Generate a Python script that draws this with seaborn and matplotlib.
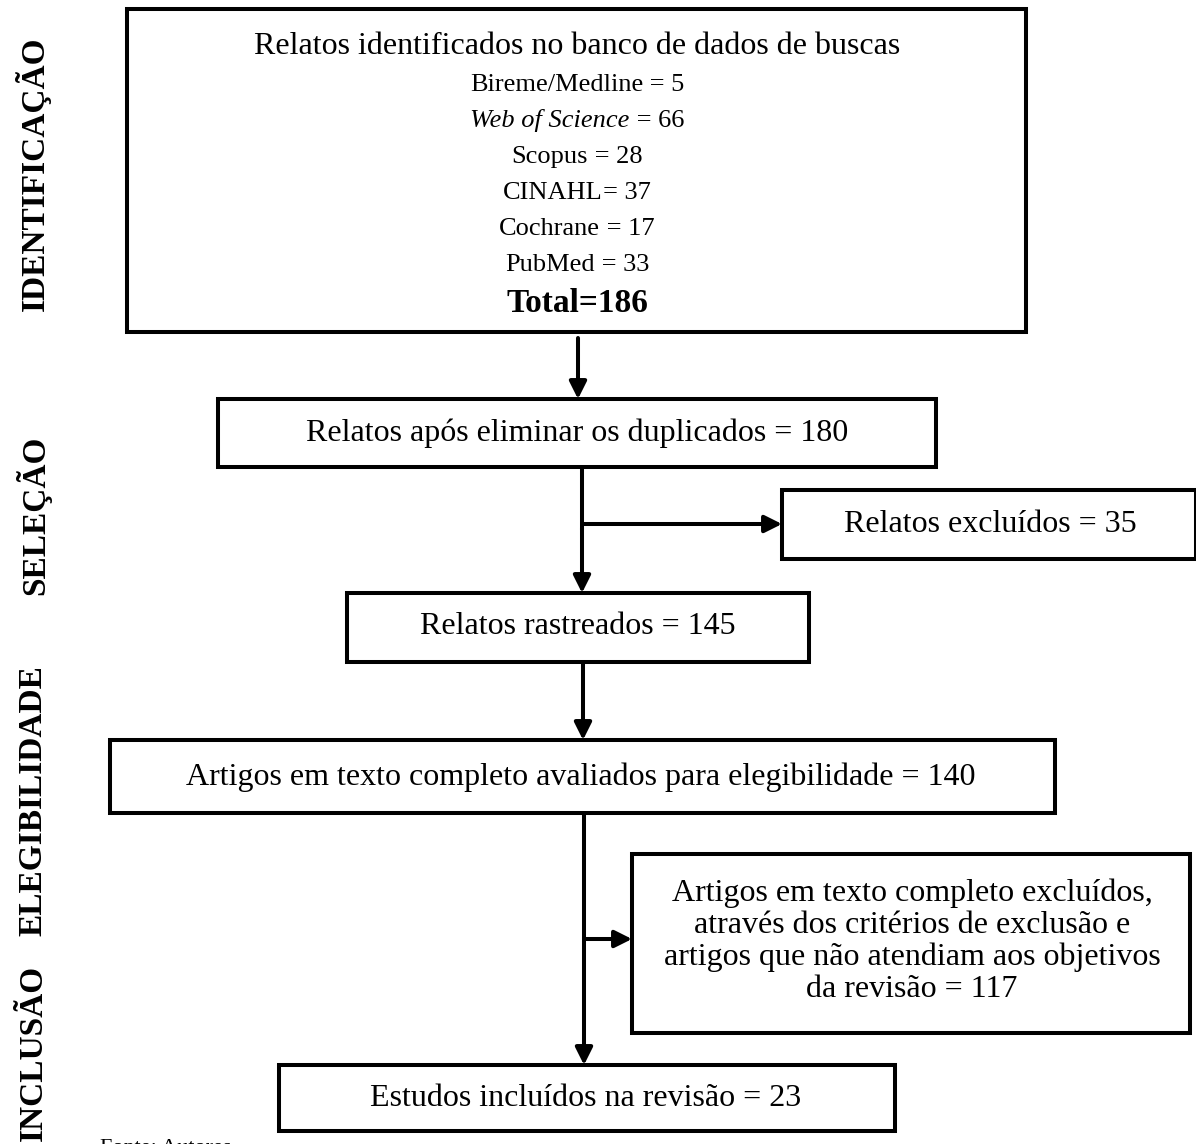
import matplotlib
matplotlib.use("Agg")
import matplotlib.pyplot as plt
from matplotlib.patches import Rectangle
import seaborn as sns

# stage labels (left side) and counts of the flow diagram
stages = ["IDENTIFICAÇÃO", "SELEÇÃO", "ELEGIBILIDADE", "INCLUSÃO"]
databases = ["Bireme/Medline", "Web of Science", "Scopus", "CINAHL", "Cochrane", "PubMed"]
db_counts = [5, 66, 28, 37, 17, 33]
db_italic = [False, True, False, False, False, False]
db_sep = [" = ", " = ", " = ", "= ", " = ", " = "]
total_found = 186
after_duplicates = 180
excluded_records = 35
screened = 145
fulltext_assessed = 140
fulltext_excluded = 117
included = 23
source_note = "Fonte: Autores"

sns.set_theme(style="white")
plt.rcParams["font.family"] = ["Liberation Serif", "DejaVu Serif"]
plt.rcParams["text.color"] = "black"

W, H = 1196, 1144
fig = plt.figure(figsize=(W / 100, H / 100), dpi=100)
ax = fig.add_axes([0, 0, 1, 1])
ax.set_xlim(0, W)
ax.set_ylim(H, 0)
ax.axis("off")

LW = 2.9
BODY = 23


def box(x0, y0, x1, y1):
    ax.add_patch(Rectangle((x0, y0), x1 - x0, y1 - y0, fill=False,
                           edgecolor="black", linewidth=LW, joinstyle="miter"))


def arrow(x0, y0, x1, y1):
    ax.annotate("", xy=(x1, y1), xytext=(x0, y0),
                arrowprops=dict(arrowstyle="-|>", color="black", lw=LW,
                                mutation_scale=26, shrinkA=0, shrinkB=0))


# identification box
box(127, 9, 1026, 332)
ax.text(577, 47, "Relatos identificados no banco de dados de buscas",
        ha="center", va="center", fontsize=BODY)
fig.canvas.draw()
renderer = fig.canvas.get_renderer()
for i, (name, n) in enumerate(zip(databases, db_counts)):
    y = 85 + i * 36
    t1 = ax.text(0, y, name, ha="left", va="center", fontsize=19,
                 style="italic" if db_italic[i] else "normal")
    t2 = ax.text(0, y, f"{db_sep[i]}{n}", ha="left", va="center", fontsize=19)
    w1 = t1.get_window_extent(renderer).width
    w2 = t2.get_window_extent(renderer).width
    x_left = 577 - (w1 + w2) / 2
    t1.set_x(x_left)
    t2.set_x(x_left + w1)
ax.text(577, 303, f"Total={total_found}", ha="center", va="center",
        fontsize=24, fontweight="bold")

arrow(578, 338, 578, 399)

# after duplicates
box(218, 399, 936, 467)
ax.text(577, 433, f"Relatos após eliminar os duplicados = {after_duplicates}",
        ha="center", va="center", fontsize=BODY)

ax.plot([582, 582], [467, 530], color="black", lw=LW, solid_capstyle="butt")
arrow(582, 524, 782, 524)
arrow(582, 528, 582, 593)

box(782, 490, 1196, 559)
ax.text(990, 524, f"Relatos excluídos = {excluded_records}",
        ha="center", va="center", fontsize=BODY)

# screened
box(347, 593, 809, 662)
ax.text(578, 627, f"Relatos rastreados = {screened}",
        ha="center", va="center", fontsize=BODY)

arrow(583, 662, 583, 740)

# eligibility
box(110, 740, 1055, 813)
ax.text(581, 777, f"Artigos em texto completo avaliados para elegibilidade = {fulltext_assessed}",
        ha="center", va="center", fontsize=BODY)

arrow(584, 813, 584, 1065)
arrow(584, 939, 632, 939)

box(632, 854, 1190, 1033)
ax.text(912, 941,
        "Artigos em texto completo excluídos,\n"
        "através dos critérios de exclusão e\n"
        "artigos que não atendiam aos objetivos\n"
        f"da revisão = {fulltext_excluded}",
        ha="center", va="center", fontsize=BODY, linespacing=1.13)

# included
box(279, 1065, 895, 1131)
ax.text(586, 1098, f"Estudos incluídos na revisão = {included}",
        ha="center", va="center", fontsize=BODY)

# stage labels
stage_y = [174, 515, 801, 1053]
for label, y in zip(stages, stage_y):
    ax.text(33, y, label, rotation=90, ha="center", va="center",
            fontsize=24, fontweight="bold")

ax.text(100, 1139, source_note, ha="left", va="top", fontsize=16)

fig.savefig("out.png", dpi=100, facecolor="white")
